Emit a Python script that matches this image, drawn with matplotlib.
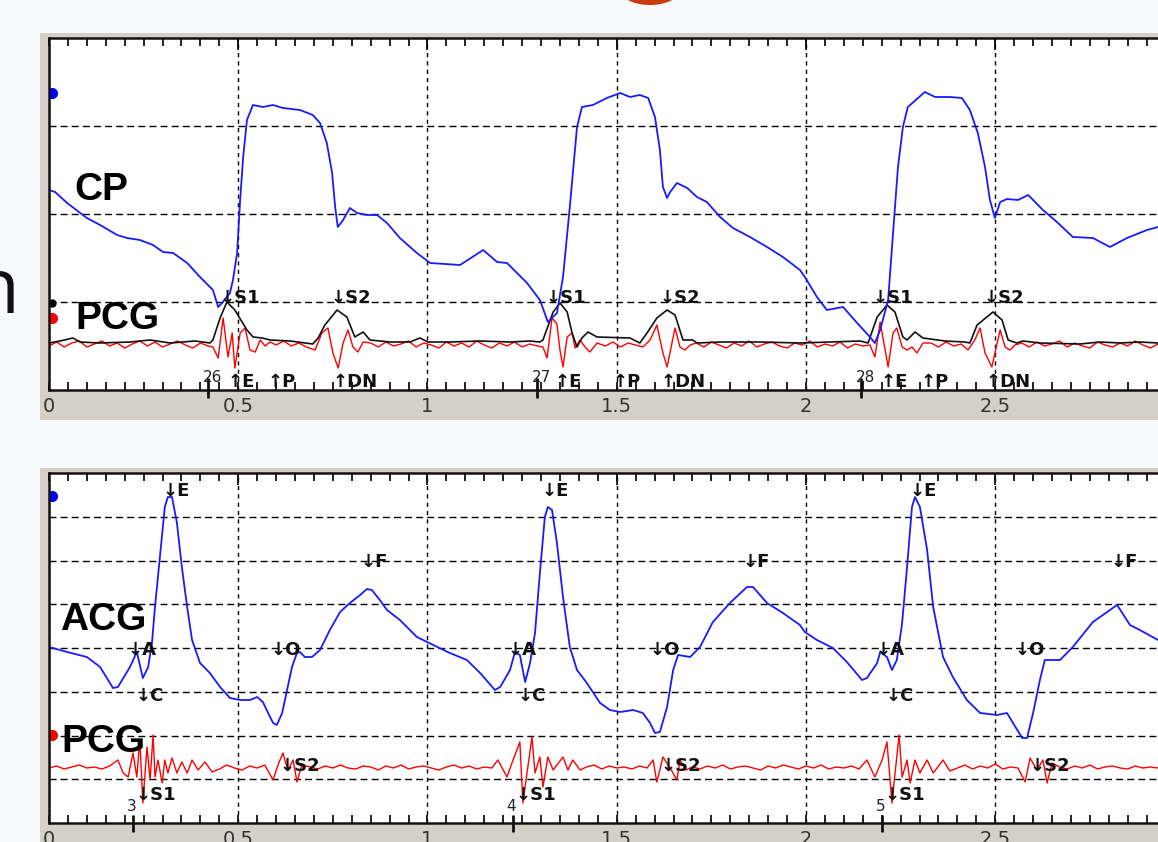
import numpy as np
import matplotlib.pyplot as plt
from matplotlib.patches import Rectangle, Ellipse

plt.rcParams['font.family'] = ['DejaVu Sans']

# ---------------- upper record: carotid pulse (CP) + PCG ----------------
cp_t = [0.000, 0.016, 0.048, 0.100, 0.135, 0.180, 0.206, 0.240, 0.275, 0.301,
        0.328, 0.365, 0.399, 0.433, 0.447, 0.457, 0.478, 0.486, 0.497, 0.505,
        0.513, 0.523, 0.539, 0.565, 0.592, 0.618, 0.663, 0.697, 0.716, 0.734,
        0.748, 0.756, 0.763, 0.777, 0.795, 0.814, 0.840, 0.867, 0.893, 0.927,
        0.972, 1.007, 1.086, 1.147, 1.184, 1.210, 1.263, 1.297, 1.318, 1.342,
        1.358, 1.376, 1.395, 1.408, 1.437, 1.474, 1.509, 1.535, 1.561, 1.583,
        1.601, 1.614, 1.622, 1.633, 1.641, 1.659, 1.686, 1.712, 1.738, 1.773,
        1.807, 1.852, 1.897, 1.939, 1.984, 1.997, 2.029, 2.055, 2.098, 2.135,
        2.169, 2.182, 2.196, 2.203, 2.217, 2.230, 2.243, 2.256, 2.269, 2.314,
        2.341, 2.380, 2.412, 2.433, 2.454, 2.473, 2.486, 2.499, 2.513, 2.531,
        2.560, 2.587, 2.626, 2.663, 2.705, 2.758, 2.803, 2.848, 2.901, 2.930]
cp_v = [200, 198, 187, 172, 165, 155, 152, 150, 145, 138,
        137, 127, 113, 100, 83, 87, 97, 110, 137, 190,
        233, 270, 285, 283, 285, 282, 280, 275, 267, 247,
        217, 183, 163, 170, 182, 177, 175, 175, 167, 152,
        137, 127, 125, 140, 128, 127, 107, 90, 68, 77,
        113, 183, 263, 283, 285, 292, 297, 293, 295, 292,
        273, 240, 203, 192, 198, 207, 202, 193, 188, 173,
        162, 153, 143, 133, 120, 113, 93, 80, 83, 67,
        53, 47, 60, 70, 90, 157, 223, 263, 283, 298,
        293, 293, 292, 280, 257, 223, 190, 172, 188, 191,
        190, 195, 180, 168, 153, 152, 143, 152, 160, 163]

# PCG envelope (black)
env_t = [0.000, 0.029, 0.063, 0.082, 0.135, 0.214, 0.267, 0.320, 0.386, 0.425,
         0.433, 0.452, 0.470, 0.491, 0.523, 0.539, 0.563, 0.584, 0.637, 0.697,
         0.711, 0.729, 0.761, 0.787, 0.808, 0.830, 0.848, 0.901, 0.954, 0.980,
         1.001, 1.059, 1.139, 1.218, 1.271, 1.297, 1.305, 1.332, 1.350, 1.369,
         1.382, 1.395, 1.408, 1.424, 1.448, 1.535, 1.561, 1.580, 1.606, 1.633,
         1.654, 1.675, 1.701, 1.712, 1.773, 1.878, 1.984, 2.063, 2.143, 2.164,
         2.188, 2.214, 2.235, 2.256, 2.267, 2.288, 2.309, 2.367, 2.420, 2.433,
         2.452, 2.494, 2.518, 2.534, 2.557, 2.573, 2.618, 2.724, 2.777, 2.830,
         2.882, 2.930]
env_v = [47, 49, 52, 48, 47, 48, 50, 47, 49, 47,
         50, 72, 88, 80, 60, 53, 52, 50, 49, 46,
         52, 65, 80, 73, 53, 58, 50, 48, 48, 52,
         48, 48, 49, 48, 49, 48, 50, 78, 87, 78,
         57, 43, 52, 58, 53, 52, 47, 57, 72, 80,
         75, 50, 50, 47, 48, 48, 47, 48, 49, 47,
         73, 85, 78, 53, 50, 58, 52, 49, 48, 47,
         65, 78, 70, 50, 47, 49, 47, 46, 48, 47,
         48, 47]

# raw PCG (red)
pcg_top_t = [0.00, 0.02, 0.04, 0.06, 0.08, 0.10, 0.12, 0.14, 0.16, 0.18, 0.20,
             0.22, 0.24, 0.26, 0.28, 0.30, 0.32, 0.34, 0.36, 0.38, 0.40, 0.42,
             0.433, 0.447, 0.460, 0.473, 0.484, 0.491, 0.505, 0.518, 0.531, 0.545,
             0.558, 0.571, 0.584,
             0.60, 0.62, 0.64, 0.66, 0.68,
             0.703, 0.721, 0.737, 0.750, 0.764, 0.777, 0.790, 0.803, 0.816, 0.830,
             0.85, 0.87, 0.89, 0.91, 0.93, 0.95, 0.97, 0.99, 1.01, 1.03, 1.05,
             1.07, 1.09, 1.11, 1.13, 1.15, 1.17, 1.19, 1.21, 1.23, 1.25, 1.27, 1.29,
             1.305, 1.316, 1.329, 1.342, 1.350, 1.358, 1.369, 1.382, 1.390, 1.403,
             1.416, 1.429, 1.448,
             1.47, 1.49, 1.51, 1.53, 1.55,
             1.569, 1.588, 1.606, 1.622, 1.633, 1.646, 1.654, 1.667, 1.680, 1.694,
             1.71, 1.73, 1.75, 1.77, 1.79, 1.81, 1.83, 1.85, 1.87, 1.89, 1.91,
             1.93, 1.95, 1.97, 1.99, 2.01, 2.03, 2.05, 2.07, 2.09, 2.11, 2.13, 2.15,
             2.169, 2.182, 2.196, 2.209, 2.217, 2.230, 2.240, 2.254, 2.267, 2.280,
             2.293, 2.309,
             2.33, 2.35, 2.37, 2.39, 2.41,
             2.428, 2.446, 2.460, 2.473, 2.491, 2.505, 2.513, 2.526, 2.539, 2.552,
             2.57, 2.59, 2.61, 2.63, 2.65, 2.67, 2.69, 2.71, 2.73, 2.75, 2.77,
             2.79, 2.81, 2.83, 2.85, 2.87, 2.89, 2.91, 2.93]
pcg_top_v = [44, 48, 43, 47, 49, 43, 46, 49, 44, 47, 42,
             46, 49, 44, 48, 43, 46, 49, 45, 42, 47, 44,
             43, 32, 72, 33, 57, 22, 57, 62, 40, 38,
             50, 44, 48,
             45, 49, 44, 47, 43,
             40, 57, 62, 37, 22, 47, 60, 43, 38, 48,
             47, 43, 48, 44, 46, 49, 43, 47, 45, 42, 48,
             44, 47, 43, 49, 45, 42, 47, 44, 48, 43, 46, 44,
             43, 32, 72, 66, 40, 23, 53, 57, 42, 50,
             43, 38, 47,
             44, 48, 43, 47, 45,
             43, 50, 65, 37, 23, 47, 62, 43, 40, 45,
             47, 43, 48, 45, 42, 47, 44, 49, 43, 46, 48,
             44, 42, 47, 45, 49, 43, 46, 44, 48, 42, 46, 44,
             45, 33, 68, 40, 23, 57, 62, 43, 40, 43,
             37, 47,
             47, 43, 48, 44, 46,
             40, 50, 62, 37, 23, 47, 60, 43, 40, 45,
             47, 43, 48, 44, 46, 49, 43, 47, 44, 42, 48,
             45, 43, 47, 44, 49, 45, 42, 46]

# ---------------- lower record: apexcardiogram (ACG) + PCG ----------------
acg_t = [0.000, 0.048, 0.100, 0.135, 0.169, 0.182, 0.214, 0.232, 0.248, 0.262,
         0.272, 0.280, 0.293, 0.306, 0.314, 0.325, 0.338, 0.351, 0.365, 0.378,
         0.399, 0.425, 0.452, 0.478, 0.505, 0.531, 0.550, 0.565, 0.579, 0.592,
         0.602, 0.616, 0.629, 0.642, 0.655, 0.663, 0.676, 0.695, 0.716, 0.742,
         0.769, 0.795, 0.822, 0.840, 0.853, 0.874, 0.893, 0.927, 0.972, 0.999,
         1.059, 1.104, 1.139, 1.178, 1.192, 1.218, 1.231, 1.244, 1.258, 1.271,
         1.284, 1.297, 1.310, 1.318, 1.329, 1.342, 1.358, 1.376, 1.395, 1.421,
         1.456, 1.482, 1.509, 1.543, 1.569, 1.588, 1.601, 1.614, 1.633, 1.649,
         1.662, 1.694, 1.720, 1.754, 1.799, 1.844, 1.860, 1.897, 1.939, 1.984,
         1.997, 2.029, 2.071, 2.108, 2.148, 2.161, 2.188, 2.196, 2.214, 2.227,
         2.240, 2.254, 2.267, 2.280, 2.288, 2.301, 2.320, 2.336, 2.362, 2.388,
         2.425, 2.460, 2.505, 2.531, 2.547, 2.571, 2.584, 2.600, 2.618, 2.631,
         2.671, 2.705, 2.758, 2.822, 2.856, 2.882, 2.930]
acg_v = [176, 171, 166, 156, 135, 136, 156, 171, 145, 156,
         180, 216, 266, 316, 326, 326, 300, 256, 216, 183,
         160, 150, 136, 125, 123, 123, 126, 121, 110, 100,
         98, 110, 133, 156, 170, 171, 166, 166, 173, 193,
         211, 220, 228, 234, 233, 223, 213, 203, 186, 181,
         170, 163, 150, 133, 136, 153, 171, 168, 141, 160,
         190, 250, 306, 316, 313, 280, 226, 176, 153, 140,
         120, 113, 111, 113, 110, 100, 90, 91, 116, 153,
         168, 166, 176, 201, 220, 236, 236, 220, 210, 198,
         191, 183, 175, 161, 143, 145, 160, 171, 166, 153,
         163, 200, 256, 316, 326, 316, 273, 216, 166, 146,
         123, 110, 108, 110, 100, 85, 85, 110, 143, 163,
         163, 176, 201, 218, 198, 193, 183]

pcg_bot_t = [0.00, 0.02, 0.04, 0.06, 0.08, 0.10, 0.12, 0.14, 0.16,
             0.182, 0.196, 0.209, 0.222, 0.232, 0.240, 0.248, 0.259, 0.267, 0.275,
             0.280, 0.288, 0.299, 0.306, 0.314, 0.325, 0.338, 0.351, 0.365, 0.378,
             0.394, 0.412, 0.431,
             0.45, 0.47, 0.49, 0.51, 0.53, 0.55, 0.57,
             0.592, 0.605, 0.618, 0.631, 0.645, 0.655, 0.668,
             0.69, 0.71, 0.73, 0.75, 0.77, 0.79, 0.81, 0.83, 0.85, 0.87, 0.89, 0.91,
             0.93, 0.95, 0.97, 0.99, 1.01, 1.03, 1.05, 1.07, 1.09, 1.11, 1.13, 1.15,
             1.17,
             1.186, 1.210, 1.226, 1.244, 1.252, 1.276, 1.284, 1.297, 1.305, 1.318,
             1.332, 1.358, 1.371, 1.384, 1.403,
             1.42, 1.44, 1.46, 1.48, 1.50, 1.52, 1.54, 1.56, 1.58,
             1.596, 1.606, 1.622, 1.641, 1.659, 1.667, 1.683,
             1.70, 1.72, 1.74, 1.76, 1.78, 1.80, 1.82, 1.84, 1.86, 1.88, 1.90, 1.92,
             1.94, 1.96, 1.98, 2.00, 2.02, 2.04, 2.06, 2.08, 2.10, 2.12, 2.14,
             2.161, 2.182, 2.201, 2.214, 2.227, 2.246, 2.254, 2.267, 2.275, 2.288,
             2.301, 2.320, 2.336, 2.362, 2.380,
             2.40, 2.42, 2.44, 2.46, 2.48, 2.50, 2.52, 2.54, 2.56,
             2.579, 2.592, 2.610, 2.626, 2.637, 2.650,
             2.67, 2.69, 2.71, 2.73, 2.75, 2.77, 2.79, 2.81, 2.83, 2.85, 2.87,
             2.89, 2.91, 2.93]
pcg_bot_v = [55, 57, 54, 56, 58, 55, 56, 54, 57,
             63, 50, 46, 70, 46, 83, 20, 76, 43, 88,
             46, 63, 40, 63, 50, 65, 50, 61, 50, 63,
             53, 61, 51,
             54, 58, 55, 53, 57, 55, 58,
             43, 58, 70, 53, 63, 41, 58,
             56, 54, 57, 55, 58, 55, 54, 57, 56, 53, 57, 55,
             58, 54, 56, 57, 55, 53, 56, 58, 55, 57, 54, 56,
             55,
             63, 46, 63, 81, 20, 86, 50, 66, 36, 66,
             53, 66, 53, 63, 53,
             56, 58, 54, 57, 55, 56, 54, 57, 55,
             63, 41, 66, 55, 43, 63, 53,
             56, 54, 57, 55, 58, 54, 56, 57, 55, 53, 57, 55,
             58, 56, 54, 57, 55, 58, 54, 56, 55, 57, 54,
             63, 46, 63, 81, 20, 88, 46, 63, 40, 63,
             50, 63, 50, 63, 52,
             55, 58, 54, 57, 55, 59, 54, 56, 55,
             41, 65, 53, 63, 40, 60,
             56, 54, 57, 55, 58, 54, 56, 57, 55, 54, 57,
             55, 56, 55]

# event marks (s)
top_s1 = [0.470, 1.332, 2.196]
top_s2 = [0.763, 1.633, 2.489]
top_e = [0.491, 1.355, 2.217]
top_p = [0.597, 1.509, 2.323]
top_dn = [0.769, 1.635, 2.494]
top_beats = [0.420, 1.289, 2.145]
top_beat_ids = ['26', '27', '28']

bot_e = [0.320, 1.321, 2.293]
bot_f = [0.843, 1.852, 2.824]
bot_a = [0.227, 1.231, 2.204]
bot_c = [0.248, 1.258, 2.230]
bot_o = [0.605, 1.606, 2.571]
bot_s1 = [0.248, 1.252, 2.227]
bot_s2 = [0.629, 1.635, 2.610]
bot_beats = [0.222, 1.226, 2.201]
bot_beat_ids = ['3', '4', '5']

time_ticks = [0, 0.5, 1, 1.5, 2, 2.5]
time_labels = ['0', '0.5', '1', '1.5', '2', '2.5']

W, H = 1158, 842
PANEL = '#d4d0c8'
INK = '#111111'

fig = plt.figure(figsize=(W / 100, H / 100), dpi=100, facecolor='#f7f9fc')


def frame(x0, y0, x1, y1):
    # grey window frame behind each record, pixel box measured from the top
    fig.add_artist(Rectangle((x0 / W, 1 - y1 / H), (x1 - x0) / W, (y1 - y0) / H,
                             transform=fig.transFigure, facecolor=PANEL,
                             edgecolor='none', zorder=-1))


def make_axes(x0, y0, x1, y1):
    return fig.add_axes([x0 / W, 1 - y1 / H, (x1 - x0) / W, (y1 - y0) / H])


def style(ax, top, rows):
    ax.set_facecolor('white')
    ax.set_xlim(0, 2.93)
    ax.set_ylim(0, top)
    ax.set_yticks(np.linspace(0, top, rows + 1)[1:-1])
    ax.tick_params(axis='y', left=False, labelleft=False)
    ax.set_xticks(time_ticks, time_labels)
    ax.set_xticks(np.arange(0, 2.93, 0.05), minor=True)
    ax.tick_params(axis='x', which='both', direction='in', top=True, bottom=True,
                   length=6, width=1.3, color=INK, labelsize=14,
                   labelcolor='#333333', pad=5)
    ax.grid(axis='y', linestyle=(0, (5, 3)), color='black', linewidth=1.0)
    ax.grid(axis='x', which='major', linestyle=(0, (3, 3)), color='black', linewidth=1.0)
    ax.spines['right'].set_visible(False)
    for side in ('left', 'top', 'bottom'):
        ax.spines[side].set_linewidth(1.8)
        ax.spines[side].set_color(INK)
    # longer marks on the top edge at each half second
    ax.vlines(time_ticks[1:], 0.965, 1.0, transform=ax.get_xaxis_transform(),
              color=INK, lw=1.3)


def note(ax, times, v, s, size=13):
    for t in times:
        ax.annotate(s, (t, v), xytext=(-5.5, 0), textcoords='offset points',
                    ha='left', va='baseline', fontsize=size, fontweight='bold',
                    color=INK)


def beat_marks(ax, times, ids, lo, hi, v_txt, shift):
    ax.vlines(times, lo, hi, color=INK, lw=2, clip_on=False)
    for t, s in zip(times, ids):
        ax.text(t + shift, v_txt, s, ha='center', va='baseline', fontsize=11,
                color='#222222')


def channel(ax, t, v, s):
    ax.text(t, v, s, fontsize=28, fontweight='bold', family='Liberation Sans',
            ha='left', va='baseline', color='black')


frame(40, 33, W + 5, 420)
frame(40, 468, W + 5, H + 5)

# ---- upper panel ----
ax1 = make_axes(49, 38, W, 390)
style(ax1, 352, 4)
ax1.plot(pcg_top_t, pcg_top_v, color='#ff0000', lw=1.0)
ax1.plot(env_t, env_v, color='#111111', lw=1.2)
ax1.plot(cp_t, cp_v, color='#1a1aff', lw=1.3)
ax1.plot([0.008], [297], 'o', color='#0000ff', ms=7)
ax1.plot([0.008], [87], 'o', color='black', ms=5)
ax1.plot([0.008], [72], 'o', color='#ff0000', ms=7)
channel(ax1, 0.066, 190, 'CP')
channel(ax1, 0.069, 61, 'PCG')
note(ax1, top_s1, 87, '↓S1')
note(ax1, top_s2, 87, '↓S2')
note(ax1, top_e, 3, '↑E')
note(ax1, top_p, 3, '↑P')
note(ax1, top_dn, 3, '↑DN')
beat_marks(ax1, top_beats, top_beat_ids, -8, 12, 8, 0.011)

# ---- lower panel ----
ax2 = make_axes(49, 473, W, 823)
style(ax2, 350, 8)
ax2.plot(pcg_bot_t, pcg_bot_v, color='#ff0000', lw=1.0)
ax2.plot(acg_t, acg_v, color='#1a1aff', lw=1.3)
ax2.plot([0.008], [327], 'o', color='#0000ff', ms=7)
ax2.plot([0.008], [88], 'o', color='#ff0000', ms=7)
channel(ax2, 0.029, 193, 'ACG')
channel(ax2, 0.032, 71, 'PCG')
note(ax2, bot_e, 327, '↓E')
note(ax2, bot_f, 256, '↓F')
note(ax2, bot_a, 168, '↓A')
note(ax2, bot_c, 122, '↓C')
note(ax2, bot_o, 168, '↓O')
note(ax2, bot_s1, 23, '↓S1')
note(ax2, bot_s2, 52, '↓S2')
beat_marks(ax2, bot_beats, bot_beat_ids, -9, 8, 12, -0.004)

# slide text around the figure
fig.text(19 / W, 1 - 313 / H, 'n', fontsize=55, family='Open Sans',
         ha='right', va='baseline', color='#111111')
fig.add_artist(Ellipse((650 / W, 1 + 7 / H), 54 / W, 24 / H,
                       transform=fig.transFigure, facecolor='#c93c0c',
                       edgecolor='none'))

fig.savefig('out.png', dpi=100, facecolor=fig.get_facecolor())
